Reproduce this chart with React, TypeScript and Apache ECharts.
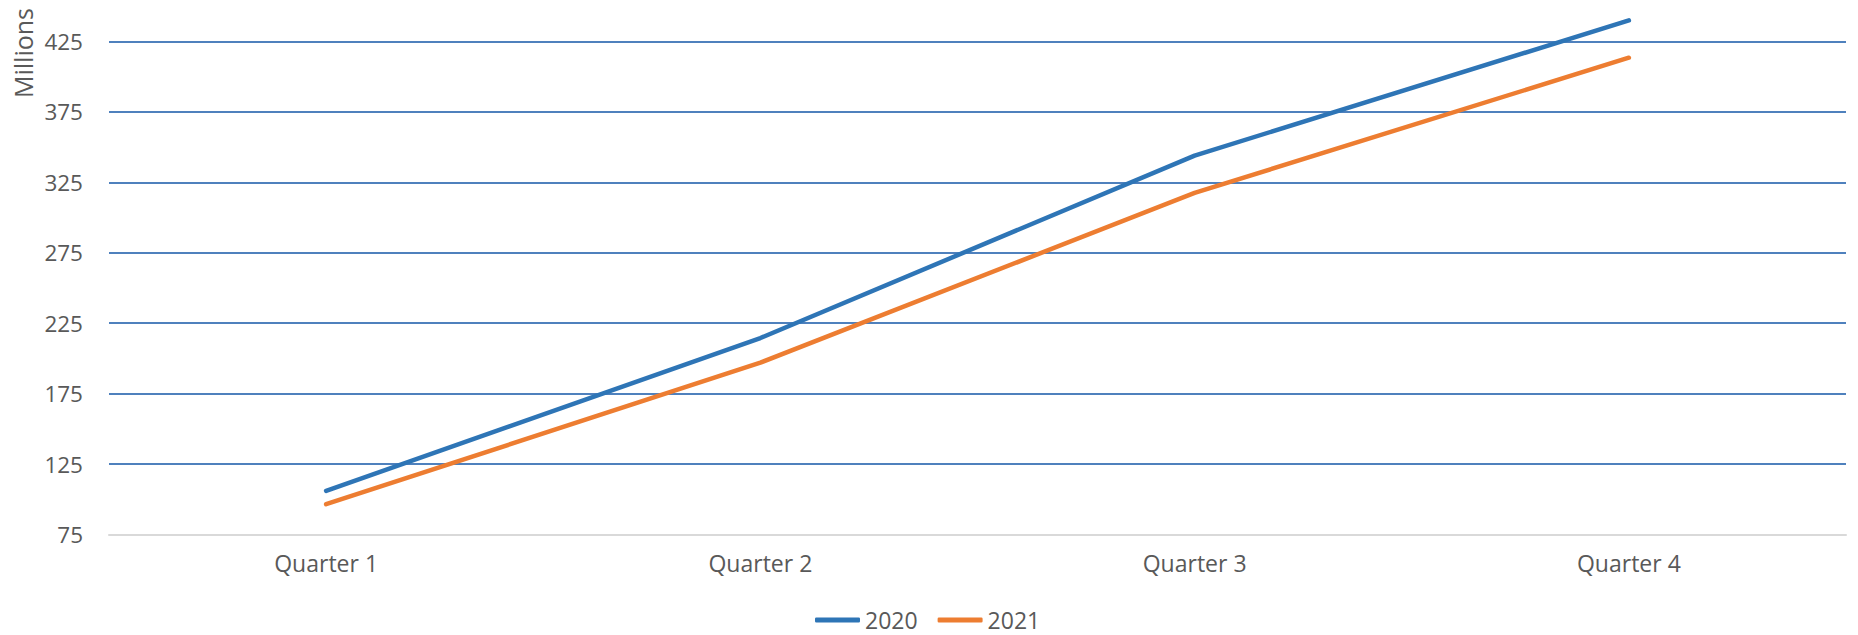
import React, { useEffect, useRef } from "react";
import * as echarts from "echarts";

const categories = ["Quarter 1", "Quarter 2", "Quarter 3", "Quarter 4"];
const series2020 = [106, 214.5, 344, 440];
const series2021 = [96.5, 197, 317.5, 413.5];
const seriesNames = ["2020", "2021"];
const yMin = 75;
const yMax = 425;
const yInterval = 50;

const FONT = "'Open Sans', 'Noto Sans', sans-serif";
const TEXT_COLOR = "#595959";

export default function App() {
  const ref = useRef<HTMLDivElement>(null);

  useEffect(() => {
    if (!ref.current) return;
    const chart = echarts.init(ref.current, undefined, { renderer: "svg" });
    chart.setOption({
      animation: false,
      backgroundColor: "#ffffff",
      textStyle: { fontFamily: FONT },
      grid: { left: 109, right: 12, top: 41.5, bottom: 100.5, containLabel: false },
      legend: {
        data: seriesNames,
        left: 815,
        top: 601,
        padding: 0,
        icon: "roundRect",
        itemWidth: 45,
        itemHeight: 5,
        itemGap: 20,
        textStyle: { fontFamily: FONT, fontSize: 23, lineHeight: 38, color: TEXT_COLOR },
      },
      graphic: [
        {
          type: "text",
          x: 23,
          y: 53,
          rotation: Math.PI / 2,
          style: {
            text: "Millions",
            fontFamily: FONT,
            fontSize: 25,
            fill: TEXT_COLOR,
            textAlign: "center",
            textVerticalAlign: "middle",
          },
        },
      ],
      xAxis: {
        type: "category",
        data: categories,
        boundaryGap: true,
        axisLine: { show: true, lineStyle: { color: "#D9D9D9", width: 2 } },
        axisTick: { show: false },
        axisLabel: { fontFamily: FONT, fontSize: 23, color: TEXT_COLOR, margin: 17 },
        splitLine: { show: false },
      },
      yAxis: {
        type: "value",
        min: yMin,
        max: yMax,
        interval: yInterval,
        axisLine: { show: false },
        axisTick: { show: false },
        axisLabel: { fontFamily: FONT, fontSize: 22.5, color: TEXT_COLOR, margin: 26 },
        splitLine: { show: true, lineStyle: { color: "#4F81BD", width: 1.8 } },
      },
      series: [
        {
          name: seriesNames[0],
          type: "line",
          data: series2020,
          symbol: "none",
          clip: false,
          color: "#2E75B6",
          lineStyle: { width: 4.5, color: "#2E75B6", cap: "round", join: "round" },
        },
        {
          name: seriesNames[1],
          type: "line",
          data: series2021,
          symbol: "none",
          clip: false,
          color: "#ED7D31",
          lineStyle: { width: 4.5, color: "#ED7D31", cap: "round", join: "round" },
        },
      ],
    });
    return () => chart.dispose();
  }, []);

  return (
    <div
      ref={ref}
      style={{ position: "fixed", left: 0, top: 0, width: 1858, height: 635 }}
    />
  );
}
